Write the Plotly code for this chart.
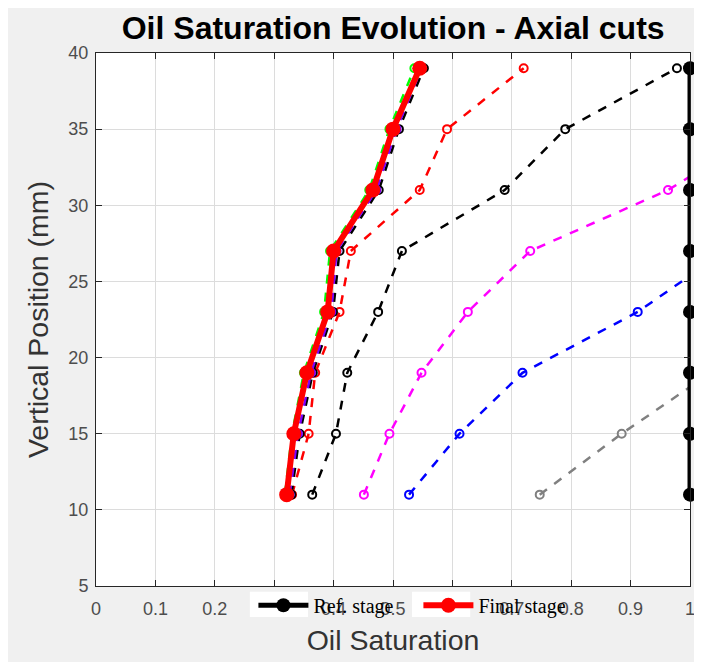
import plotly.graph_objects as go

depth = [11, 15, 19, 23, 27, 31, 35, 39]

ref_stage = [1.0, 1.0, 1.0, 1.0, 1.0, 1.0, 1.0, 1.0]
final_stage = [0.321, 0.333, 0.355, 0.39, 0.40, 0.466, 0.50, 0.545]

green_cut = [0.318, 0.330, 0.350, 0.384, 0.394, 0.460, 0.494, 0.536]
purple_cut = [0.326, 0.340, 0.362, 0.396, 0.405, 0.472, 0.506, 0.548]
dark_cut = [0.329, 0.343, 0.365, 0.399, 0.410, 0.476, 0.510, 0.552]

red_cut = [0.330, 0.358, 0.369, 0.41, 0.429, 0.545, 0.591, 0.72]
black_cut = [0.364, 0.404, 0.423, 0.475, 0.515, 0.688, 0.79, 0.978]

magenta_depth = [11, 15, 19, 23, 27, 31, 35]
magenta_cut = [0.451, 0.494, 0.548, 0.626, 0.731, 0.963, 1.13]

blue_depth = [11, 15, 19, 23, 27]
blue_cut = [0.527, 0.612, 0.718, 0.912, 1.06]

gray_depth = [11, 15, 19]
gray_cut = [0.747, 0.885, 1.035]

x_ticks = [0, 0.1, 0.2, 0.3, 0.4, 0.5, 0.6, 0.7, 0.8, 0.9, 1]
x_labels = ["0", "0.1", "0.2", "0.3", "0.4", "0.5", "0.6", "0.7", "0.8", "0.9", "1"]
y_ticks = [5, 10, 15, 20, 25, 30, 35, 40]

fig = go.Figure()

def dashed(x, y, color):
    fig.add_trace(go.Scatter(
        x=x, y=y, mode="lines+markers", showlegend=False,
        line=dict(color=color, width=2.5, dash="dash"),
        marker=dict(symbol="circle-open", size=8, color=color, line=dict(width=2)),
        hoverinfo="skip"))

dashed(gray_cut, gray_depth, "#808080")
dashed(blue_cut, blue_depth, "#0000ff")
dashed(magenta_cut, magenta_depth, "#ff00ff")
dashed(black_cut, depth, "#000000")
dashed(red_cut, depth, "#ff0000")
dashed(dark_cut, depth, "#000000")
dashed(purple_cut, depth, "#7f00ff")
dashed(green_cut, depth, "#00ff00")

fig.add_trace(go.Scatter(
    x=ref_stage, y=depth, mode="lines+markers", name="Ref. stage",
    line=dict(color="#000000", width=5), cliponaxis=False,
    marker=dict(symbol="circle", size=14, color="#000000")))
fig.add_trace(go.Scatter(
    x=final_stage, y=depth, mode="lines+markers", name="Final stage",
    line=dict(color="#ff0000", width=6),
    marker=dict(symbol="circle", size=15, color="#ff0000")))

tick_font = dict(family="Liberation Sans, Arial", size=18, color="#4d4d4d")
title_font = dict(family="Liberation Sans, Arial", size=28.5, color="#333333")

axis_common = dict(
    showgrid=True, gridcolor="#dcdcdc", gridwidth=1,
    showline=True, linecolor="#262626", linewidth=1, mirror="ticks",
    ticks="inside", ticklen=6, tickcolor="#262626",
    tickfont=tick_font, zeroline=False)

fig.update_layout(
    width=694, height=654,
    paper_bgcolor="#f0f0f0", plot_bgcolor="#ffffff",
    margin=dict(l=88, r=12, t=45, b=76, autoexpand=False),
    title=dict(text="<b>Oil Saturation Evolution - Axial cuts</b>",
               x=0.555, xanchor="center", y=0.969, yanchor="middle",
               font=dict(family="Liberation Sans, Arial", size=32, color="#000000")),
    xaxis=dict(range=[0, 1], tickvals=x_ticks, ticktext=x_labels, ticklabelstandoff=6,
               title=dict(text="Oil Saturation", standoff=12, font=title_font),
               **axis_common),
    yaxis=dict(range=[5, 40], tickvals=y_ticks, ticklabelstandoff=3,
               title=dict(text="Vertical Position (mm)", standoff=11, font=title_font),
               **axis_common),
    legend=dict(orientation="h", x=0.265, xanchor="left", y=-0.036, yanchor="middle",
                bgcolor="rgba(0,0,0,0)", itemwidth=50, entrywidth=100, entrywidthmode="pixels",
                font=dict(family="Liberation Serif, DejaVu Serif", size=20, color="#000000")),
    shapes=[
        dict(type="rect", xref="paper", yref="paper", x0=0.259, x1=0.357, y0=-0.058, y1=-0.011,
             fillcolor="#ffffff", line=dict(width=0), layer="above"),
        dict(type="rect", xref="paper", yref="paper", x0=0.532, x1=0.630, y0=-0.058, y1=-0.011,
             fillcolor="#ffffff", line=dict(width=0), layer="above"),
    ],
)

fig.write_html("out.html")
